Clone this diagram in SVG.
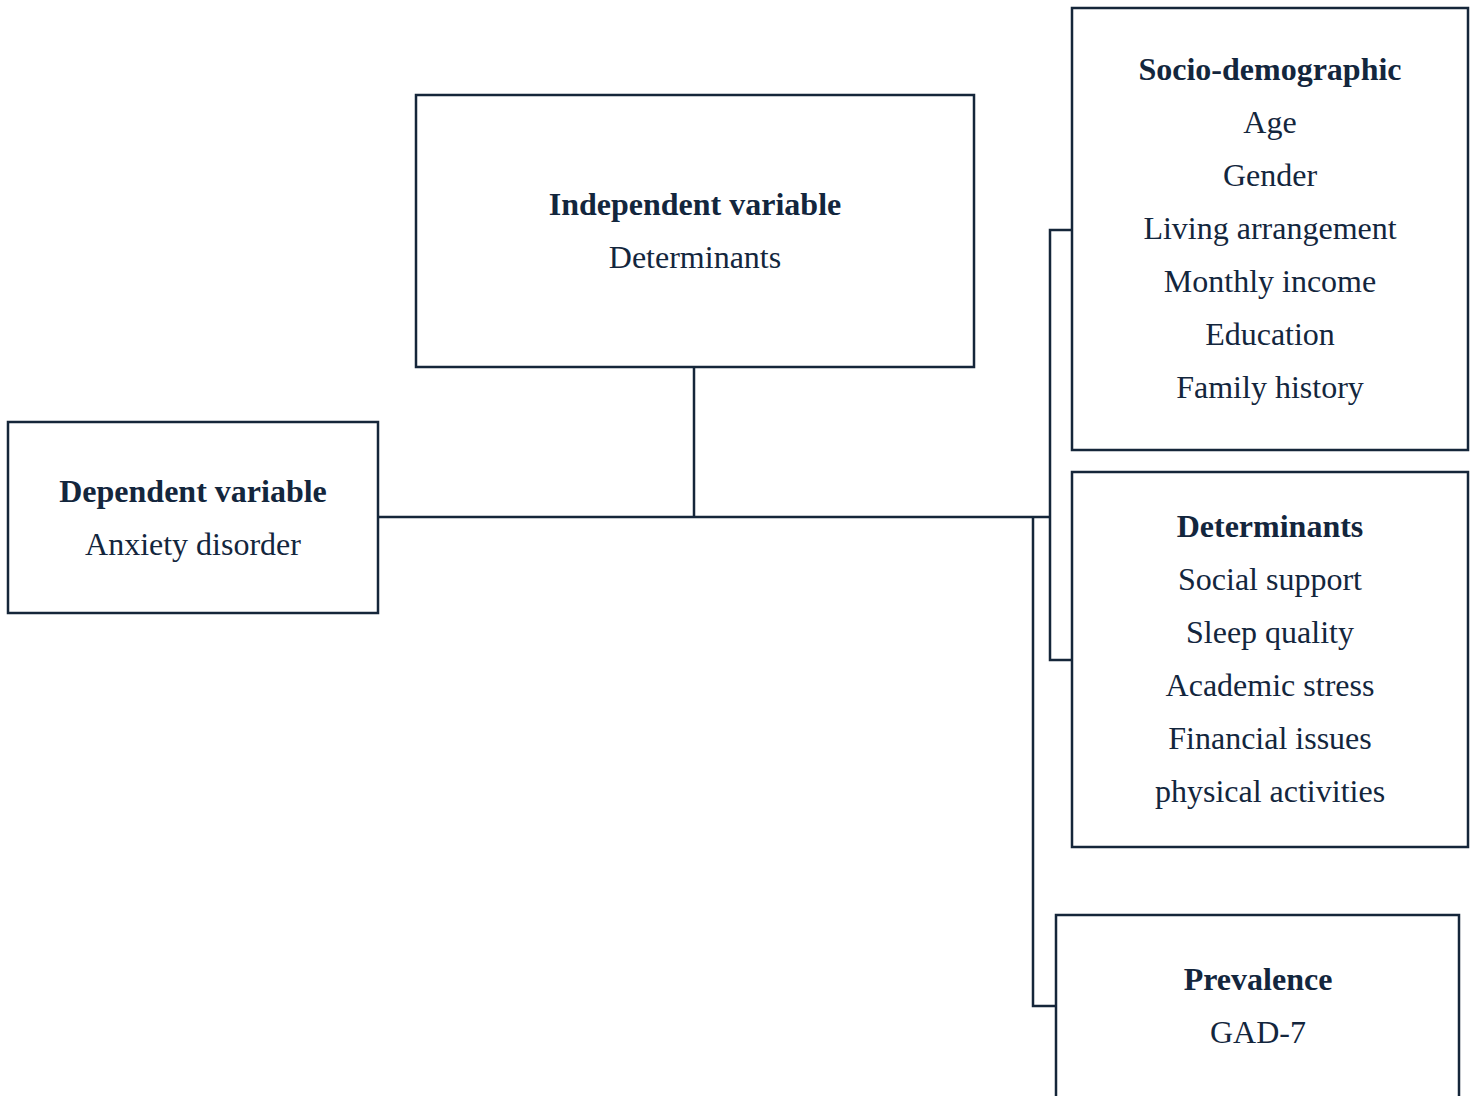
<svg xmlns="http://www.w3.org/2000/svg" width="1477" height="1096" viewBox="0 0 1477 1096">
<style>
.box{fill:#fff;stroke:#15263a;stroke-width:2.5}
.ln{fill:none;stroke:#15263a;stroke-width:2.5}
text{font-family:"Liberation Serif","Times New Roman",serif;font-size:32px;fill:#13263d;text-anchor:middle}
.b{font-weight:bold}
</style>
<rect width="1477" height="1096" fill="#fff"/>
<g id="connectors">
<path class="ln" d="M694,367 V517"/>
<path class="ln" d="M378,517 H1050"/>
<path class="ln" d="M1072,230 H1050 V660 H1072"/>
<path class="ln" d="M1033,517 V1006 H1056"/>
</g>
<g id="independent">
<rect class="box" x="416" y="95" width="558" height="272"/>
<text class="b" x="695" y="215">Independent variable</text>
<text x="695" y="268">Determinants</text>
</g>
<g id="dependent">
<rect class="box" x="8" y="422" width="370" height="191"/>
<text class="b" x="193" y="502">Dependent variable</text>
<text x="193" y="555">Anxiety disorder</text>
</g>
<g id="socio">
<rect class="box" x="1072" y="8" width="396" height="442"/>
<text class="b" x="1270" y="80">Socio-demographic</text>
<text x="1270" y="133">Age</text>
<text x="1270" y="186">Gender</text>
<text x="1270" y="239">Living arrangement</text>
<text x="1270" y="292">Monthly income</text>
<text x="1270" y="345">Education</text>
<text x="1270" y="398">Family history</text>
</g>
<g id="determinants">
<rect class="box" x="1072" y="472" width="396" height="375"/>
<text class="b" x="1270" y="537">Determinants</text>
<text x="1270" y="590">Social support</text>
<text x="1270" y="643">Sleep quality</text>
<text x="1270" y="696">Academic stress</text>
<text x="1270" y="749">Financial issues</text>
<text x="1270" y="802">physical activities</text>
</g>
<g id="prevalence">
<rect class="box" x="1056" y="915" width="403" height="200"/>
<text class="b" x="1258" y="990">Prevalence</text>
<text x="1258" y="1043">GAD-7</text>
</g>
</svg>
